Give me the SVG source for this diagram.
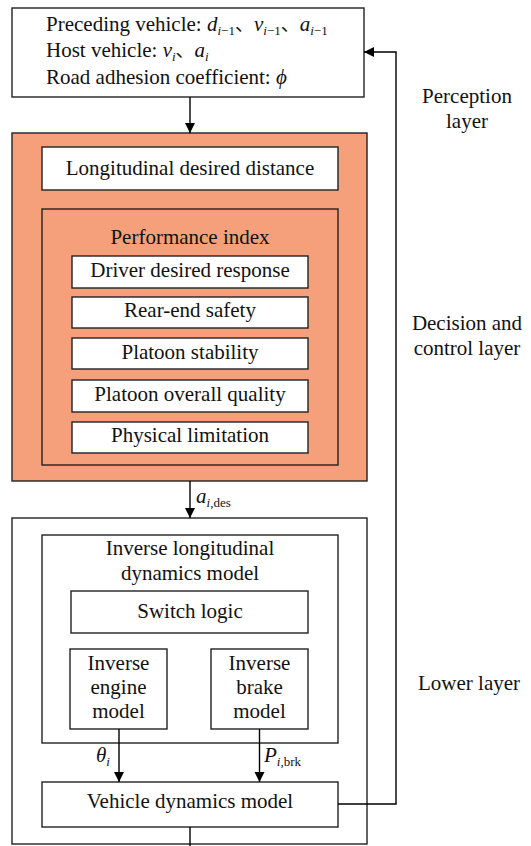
<svg xmlns="http://www.w3.org/2000/svg" width="531" height="846" viewBox="0 0 531 846">
  <defs>
    <marker id="arrow" viewBox="0 0 10 10" refX="10" refY="5" markerWidth="10" markerHeight="11" markerUnits="userSpaceOnUse" orient="auto">
      <path d="M0,0 L10,5 L0,10 Z" fill="#000"/>
    </marker>
    <style>
      text { font-family: "Liberation Serif", "Times New Roman", Times, serif; font-size: 21px; fill: #111; }
      .cjk { font-family: "Noto Sans CJK SC", "Noto Sans CJK JP", sans-serif; font-size: 19px; }
      .c { text-anchor: middle; }
      .it { font-style: italic; }
      .sub { font-size: 13px; }
      .box { fill: #fff; stroke: #222; stroke-width: 1.4; }
      .orange { fill: #F5A07B; stroke: #222; stroke-width: 1.4; }
      .wire { fill: none; stroke: #000; stroke-width: 1.4; }
    </style>
  </defs>

  <rect width="531" height="846" fill="#fff"/>

  <!-- perception inputs -->
  <g id="inputs">
    <rect class="box" x="12" y="8" width="352" height="89"/>
    <text x="46" y="31">Preceding vehicle: <tspan class="it">d</tspan><tspan class="sub" dy="4"><tspan class="it">i</tspan>−1</tspan><tspan class="cjk" dy="-4">、</tspan><tspan class="it">v</tspan><tspan class="sub" dy="4"><tspan class="it">i</tspan>−1</tspan><tspan class="cjk" dy="-4">、</tspan><tspan class="it">a</tspan><tspan class="sub" dy="4"><tspan class="it">i</tspan>−1</tspan></text>
    <text x="46" y="57">Host vehicle: <tspan class="it">v</tspan><tspan class="sub it" dy="4">i</tspan><tspan class="cjk" dy="-4">、</tspan><tspan class="it">a</tspan><tspan class="sub it" dy="4">i</tspan></text>
    <text x="46" y="84">Road adhesion coefficient: <tspan class="it">ϕ</tspan></text>
  </g>

  <!-- decision and control layer -->
  <g id="decision">
    <rect class="orange" x="12" y="133" width="355" height="348"/>
  </g>
  <g id="desired-distance">
    <rect class="box" x="42" y="147" width="296" height="43"/>
    <text class="c" x="190" y="175">Longitudinal desired distance</text>
  </g>
  <g id="performance-index">
    <rect class="orange" x="42" y="209" width="296" height="256"/>
    <text class="c" x="190" y="244">Performance index</text>
  </g>
  <g id="driver-response">
    <rect class="box" x="72" y="256" width="236" height="32"/>
    <text class="c" x="190" y="277">Driver desired response</text>
  </g>
  <g id="rear-end-safety">
    <rect class="box" x="72" y="297" width="236" height="31"/>
    <text class="c" x="190" y="317">Rear-end safety</text>
  </g>
  <g id="platoon-stability">
    <rect class="box" x="72" y="338" width="236" height="31"/>
    <text class="c" x="190" y="359">Platoon stability</text>
  </g>
  <g id="platoon-quality">
    <rect class="box" x="72" y="380" width="236" height="32"/>
    <text class="c" x="190" y="401">Platoon overall quality</text>
  </g>
  <g id="physical-limitation">
    <rect class="box" x="72" y="422" width="236" height="31"/>
    <text class="c" x="190" y="442">Physical limitation</text>
  </g>

  <!-- lower layer -->
  <g id="lower">
    <rect class="box" x="12" y="518" width="355" height="326"/>
  </g>
  <g id="inverse-dynamics">
    <rect class="box" x="42" y="535" width="296" height="208"/>
    <text class="c" x="190" y="555">Inverse longitudinal</text>
    <text class="c" x="190" y="580">dynamics model</text>
  </g>
  <g id="switch-logic">
    <rect class="box" x="71" y="591" width="237" height="42"/>
    <text class="c" x="190" y="618">Switch logic</text>
  </g>
  <g id="inverse-engine">
    <rect class="box" x="70" y="649" width="97" height="80"/>
    <text class="c" x="118.5" y="670">Inverse</text>
    <text class="c" x="118.5" y="694">engine</text>
    <text class="c" x="118.5" y="718">model</text>
  </g>
  <g id="inverse-brake">
    <rect class="box" x="211" y="649" width="97" height="80"/>
    <text class="c" x="259.5" y="670">Inverse</text>
    <text class="c" x="259.5" y="694">brake</text>
    <text class="c" x="259.5" y="718">model</text>
  </g>
  <g id="vehicle-dynamics">
    <rect class="box" x="42" y="782" width="296" height="45"/>
    <text class="c" x="190" y="808">Vehicle dynamics model</text>
  </g>

  <!-- layer labels -->
  <g id="labels">
    <text class="c" x="467" y="103">Perception</text>
    <text class="c" x="467" y="128">layer</text>
    <text class="c" x="467" y="330">Decision and</text>
    <text class="c" x="467" y="355">control layer</text>
    <text class="c" x="469" y="690">Lower layer</text>
  </g>

  <!-- connectors -->
  <g id="connectors">
    <line class="wire" x1="190" y1="97" x2="190" y2="133" marker-end="url(#arrow)"/>
    <line class="wire" x1="190" y1="481" x2="190" y2="518" marker-end="url(#arrow)"/>
    <line class="wire" x1="119" y1="729" x2="119" y2="782" marker-end="url(#arrow)"/>
    <line class="wire" x1="259.5" y1="729" x2="259.5" y2="782" marker-end="url(#arrow)"/>
    <polyline class="wire" points="338,804 396,804 396,52 364,52" marker-end="url(#arrow)"/>
    <line class="wire" x1="190" y1="827" x2="190" y2="846"/>
    <text x="196" y="503"><tspan class="it">a</tspan><tspan class="sub" dy="4"><tspan class="it">i</tspan>,des</tspan></text>
    <text x="96" y="762"><tspan class="it">θ</tspan><tspan class="sub it" dy="4">i</tspan></text>
    <text x="264" y="762"><tspan class="it">P</tspan><tspan class="sub" dy="4"><tspan class="it">i</tspan>,brk</tspan></text>
  </g>
</svg>
